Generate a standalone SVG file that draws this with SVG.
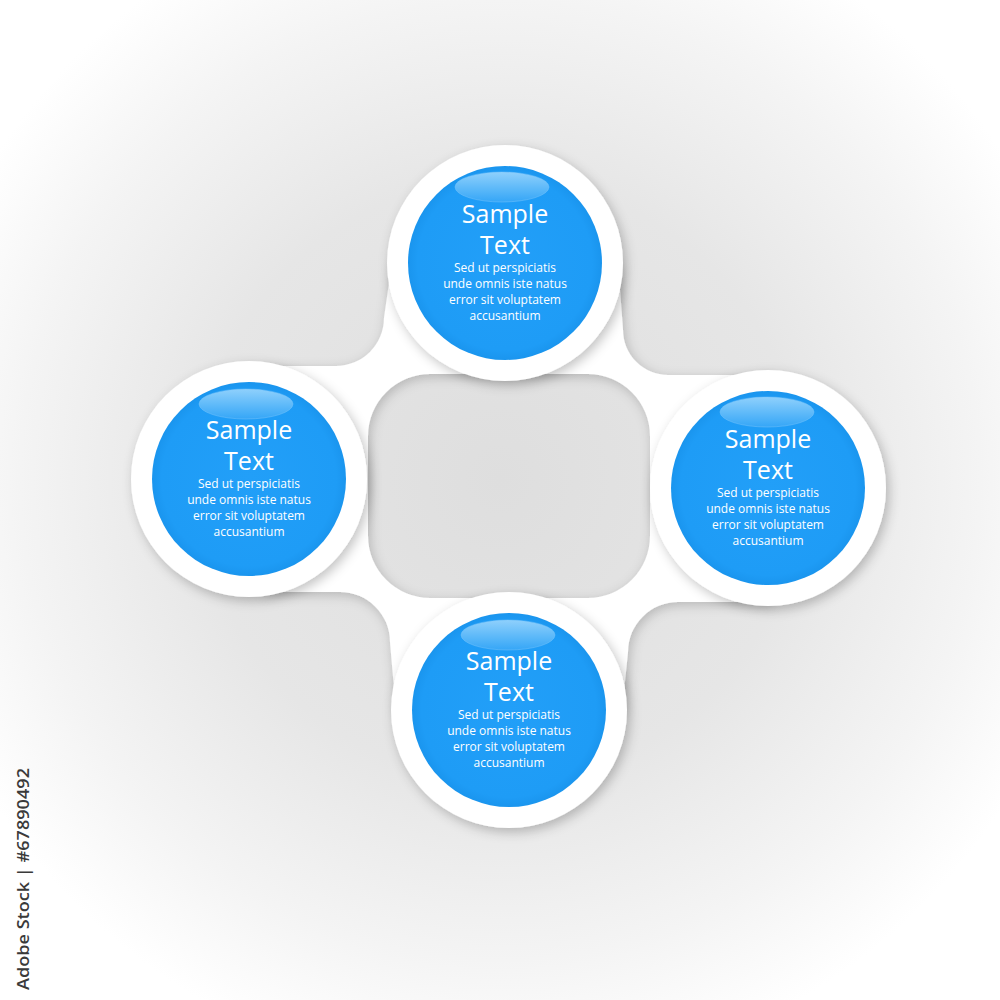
<svg xmlns="http://www.w3.org/2000/svg" width="1000" height="1000" viewBox="0 0 1000 1000">
  <defs>
    <radialGradient id="bg" cx="500" cy="480" r="600" gradientUnits="userSpaceOnUse">
      <stop offset="0" stop-color="#dedede"/>
      <stop offset="0.5" stop-color="#e6e6e6"/>
      <stop offset="0.8" stop-color="#f4f4f4"/>
      <stop offset="1" stop-color="#ffffff"/>
    </radialGradient>
    <radialGradient id="blue" cx="0.5" cy="0.5" r="0.5">
      <stop offset="0" stop-color="#229ff8"/>
      <stop offset="0.9" stop-color="#1e9cf6"/>
      <stop offset="1" stop-color="#1a95ee"/>
    </radialGradient>
    <linearGradient id="gloss" x1="0" y1="0" x2="0" y2="1">
      <stop offset="0" stop-color="#8fd0fc"/>
      <stop offset="0.55" stop-color="#5db9f9"/>
      <stop offset="1" stop-color="#35a6f7"/>
    </linearGradient>
    <filter id="baseShadow" x="-20%" y="-20%" width="140%" height="140%">
      <feDropShadow dx="2" dy="3" stdDeviation="6" flood-color="#000" flood-opacity="0.2"/>
    </filter>
    <filter id="ringShadow" x="-30%" y="-30%" width="160%" height="160%">
      <feDropShadow dx="3" dy="4" stdDeviation="6" flood-color="#000" flood-opacity="0.24"/>
    </filter>
    <style>
      .ring { fill: #ffffff; filter: url(#ringShadow); }
      .disc { fill: url(#blue); }
      .gloss { fill: url(#gloss); stroke: #7cc6fa; stroke-width: 0.8; stroke-opacity: 0.6; }
      .title { font-family: "Open Sans", "Liberation Sans", sans-serif; font-size: 25px; fill: #ffffff; text-anchor: middle; }
      .body { font-family: "Open Sans", "Liberation Sans", sans-serif; font-size: 12px; fill: #ffffff; text-anchor: middle; }
      .credit { font-family: "Open Sans", "Liberation Sans", sans-serif; font-size: 17px; font-weight: 600; fill: #3a3a3a; }
    </style>
  </defs>

  <rect x="0" y="0" width="1000" height="1000" fill="url(#bg)"/>

  <g id="connectors">
    <path filter="url(#baseShadow)" fill="#ffffff" fill-rule="evenodd"
      d="M 392,262 L 384,318 A 48 48 0 0 1 336,366 L 262,366 L 262,592 L 340,592 A 50 50 0 0 1 390,642 L 396,711 L 622,711 L 628,652 A 50 50 0 0 1 678,602 L 770,602 L 770,375 L 668,375 A 45 45 0 0 1 623,330 L 618,262 Z
         M 430,374 L 588,374 A 62 62 0 0 1 650,436 L 650,536 A 62 62 0 0 1 588,598 L 430,598 A 62 62 0 0 1 368,536 L 368,436 A 62 62 0 0 1 430,374 Z"/>
  </g>

  <g id="node-top" transform="translate(505,263)">
    <circle class="ring" cx="0" cy="0" r="118"/>
    <circle class="disc" cx="0" cy="0" r="97"/>
    <ellipse class="gloss" cx="-3" cy="-76" rx="47" ry="15"/>
    <text class="title" x="0" y="-40">Sample</text>
    <text class="title" x="0" y="-9">Text</text>
    <text class="body" x="0" y="9">Sed ut perspiciatis</text>
    <text class="body" x="0" y="25">unde omnis iste natus</text>
    <text class="body" x="0" y="41">error sit voluptatem</text>
    <text class="body" x="0" y="57">accusantium</text>
  </g>

  <g id="node-left" transform="translate(249,479)">
    <circle class="ring" cx="0" cy="0" r="118"/>
    <circle class="disc" cx="0" cy="0" r="97"/>
    <ellipse class="gloss" cx="-3" cy="-75" rx="47" ry="15"/>
    <text class="title" x="0" y="-40">Sample</text>
    <text class="title" x="0" y="-9">Text</text>
    <text class="body" x="0" y="9">Sed ut perspiciatis</text>
    <text class="body" x="0" y="25">unde omnis iste natus</text>
    <text class="body" x="0" y="41">error sit voluptatem</text>
    <text class="body" x="0" y="57">accusantium</text>
  </g>

  <g id="node-right" transform="translate(768,488)">
    <circle class="ring" cx="0" cy="0" r="118"/>
    <circle class="disc" cx="0" cy="0" r="97"/>
    <ellipse class="gloss" cx="-1" cy="-76" rx="47" ry="15"/>
    <text class="title" x="0" y="-40">Sample</text>
    <text class="title" x="0" y="-9">Text</text>
    <text class="body" x="0" y="9">Sed ut perspiciatis</text>
    <text class="body" x="0" y="25">unde omnis iste natus</text>
    <text class="body" x="0" y="41">error sit voluptatem</text>
    <text class="body" x="0" y="57">accusantium</text>
  </g>

  <g id="node-bottom" transform="translate(509,710)">
    <circle class="ring" cx="0" cy="0" r="118"/>
    <circle class="disc" cx="0" cy="0" r="97"/>
    <ellipse class="gloss" cx="-1" cy="-75" rx="47" ry="15"/>
    <text class="title" x="0" y="-40">Sample</text>
    <text class="title" x="0" y="-9">Text</text>
    <text class="body" x="0" y="9">Sed ut perspiciatis</text>
    <text class="body" x="0" y="25">unde omnis iste natus</text>
    <text class="body" x="0" y="41">error sit voluptatem</text>
    <text class="body" x="0" y="57">accusantium</text>
  </g>

  <g id="credit" transform="translate(29,990) rotate(-90)">
    <text class="credit" x="0" y="0" textLength="222" lengthAdjust="spacingAndGlyphs">Adobe Stock | #67890492</text>
  </g>
</svg>
